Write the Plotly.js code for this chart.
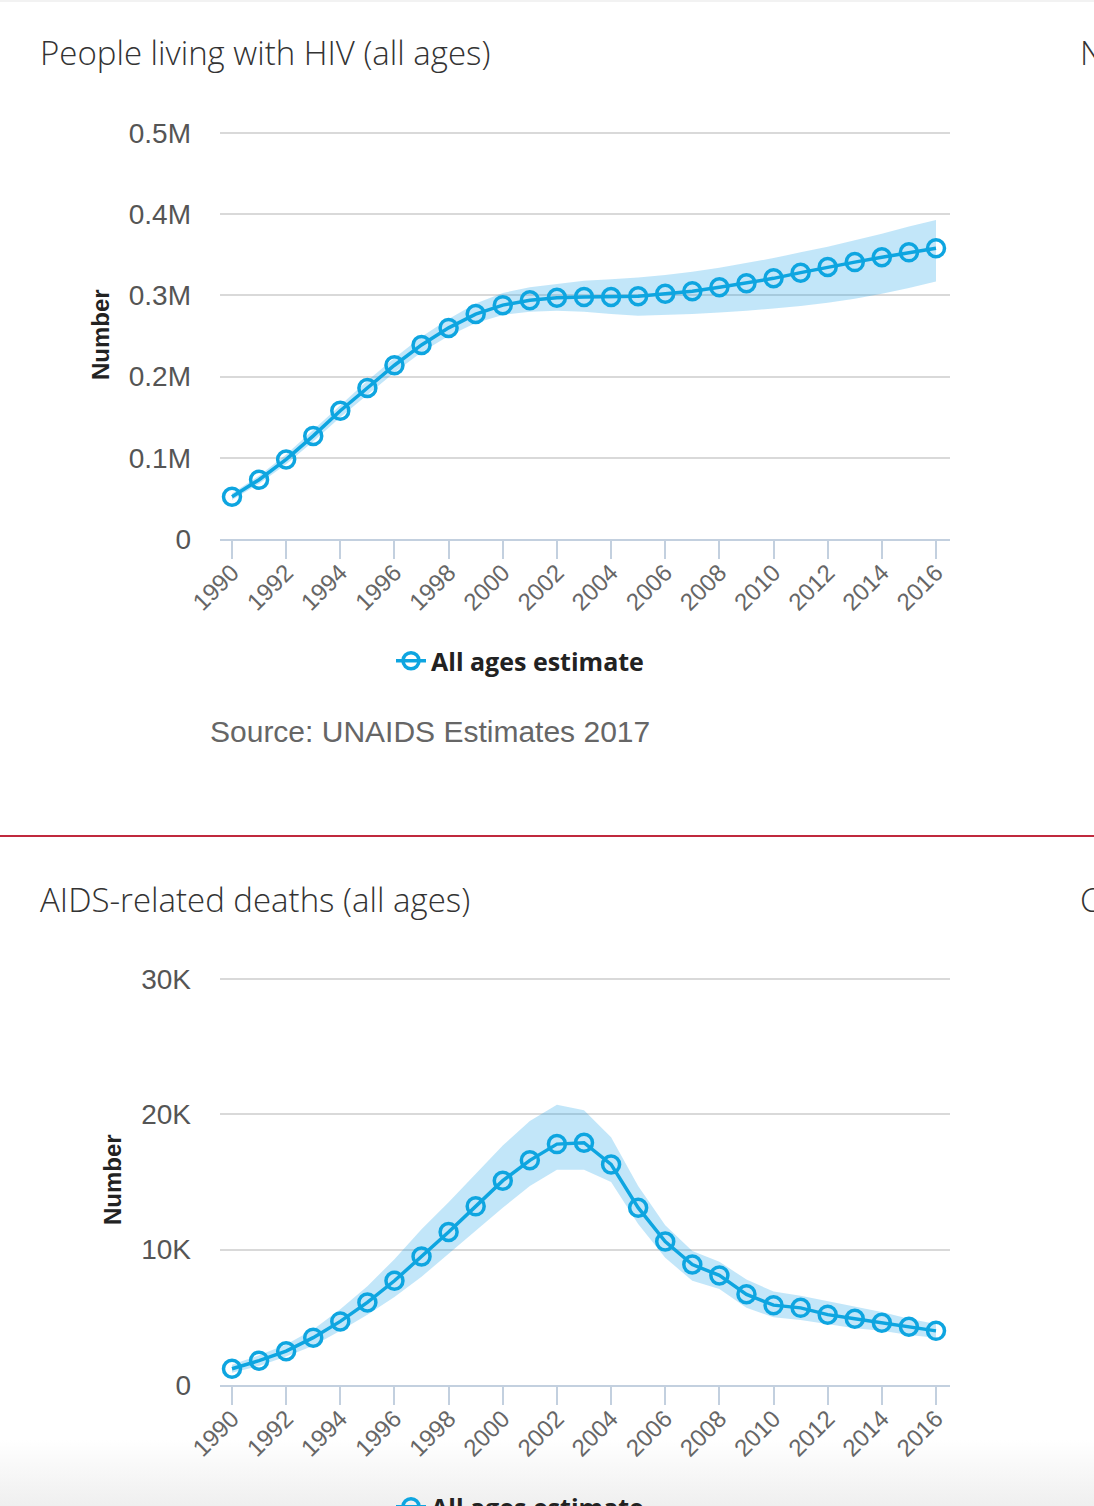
<!DOCTYPE html>
<html>
<head>
<meta charset="utf-8">
<script src="https://cdn.plot.ly/plotly-3.0.1.min.js"></script>
<style>
  html, body { margin: 0; padding: 0; }
  body { width: 1094px; height: 1506px; overflow: hidden;
         background: linear-gradient(to bottom, #ffffff 0px, #ffffff 1440px, #efefef 1506px); }
  #chart { width: 1094px; height: 1506px; }
</style>
</head>
<body>
<div id="chart"></div>
<script>
// ---------- data ----------
const years = [1990,1991,1992,1993,1994,1995,1996,1997,1998,1999,2000,2001,2002,2003,2004,2005,2006,2007,2008,2009,2010,2011,2012,2013,2014,2015,2016];

// People living with HIV (all ages)
const plhivEstimate = [52000,73000,98000,127000,158000,186000,214000,239000,260000,277000,288000,294000,297000,298000,298000,299000,302000,305000,310000,315000,321000,328000,335000,341000,347000,353000,358000];
const plhivLower    = [48000,68000,92000,120000,150000,178000,205000,230000,250000,266000,276000,280000,281000,280000,277000,275000,276000,277000,279000,281000,284000,287000,291000,296000,302000,309000,317000];
const plhivUpper    = [56000,78000,104000,134000,165000,195000,223000,249000,271000,290000,303000,310000,314000,318000,320000,322000,325000,329000,334000,340000,346000,353000,360000,368000,376000,385000,393000];

// AIDS-related deaths (all ages)
const deathsEstimate = [1200,1800,2500,3500,4700,6100,7700,9500,11300,13200,15100,16600,17800,17900,16300,13100,10600,8900,8100,6700,5900,5700,5200,4900,4600,4300,4000];
const deathsLower    = [900,1400,2100,2900,4000,5200,6500,8000,9700,11400,13100,14700,15900,15900,15000,11900,9400,7700,7100,5700,5000,4800,4500,4200,4000,3700,3500];
const deathsUpper    = [1500,2200,3000,4100,5600,7300,9300,11500,13500,15600,17700,19500,20700,20300,18300,14700,11800,9900,9100,7800,6900,6600,6200,5800,5400,4900,4500];

const xTickVals = [1990,1992,1994,1996,1998,2000,2002,2004,2006,2008,2010,2012,2014,2016];
const plhivTickVals = [0,100000,200000,300000,400000,500000];
const plhivTickText = ['0','0.1M','0.2M','0.3M','0.4M','0.5M'];
const deathsTickVals = [0,10000,20000,30000];
const deathsTickText = ['0','10K','20K','30K'];

const chartTitles = ['People living with HIV (all ages)', 'AIDS-related deaths (all ages)'];
const seriesName = 'All ages estimate';
const sourceText = 'Source: UNAIDS Estimates 2017';

// ---------- styling ----------
const W = 1094, H = 1506;
const px = v => v / W;
const py = v => 1 - v / H;
const BLUE = '#0ea5e0';
const BAND = 'rgba(20,160,230,0.26)';

function band(xa, ya, lower, upper) {
  return [
    { x: years, y: lower, xaxis: xa, yaxis: ya, type: 'scatter', mode: 'lines',
      line: { width: 0, color: BAND }, showlegend: false, hoverinfo: 'skip' },
    { x: years, y: upper, xaxis: xa, yaxis: ya, type: 'scatter', mode: 'lines',
      fill: 'tonexty', fillcolor: BAND, line: { width: 0, color: BAND }, showlegend: false, hoverinfo: 'skip' }
  ];
}
function line(xa, ya, vals, legend) {
  return { x: years, y: vals, xaxis: xa, yaxis: ya, type: 'scatter', mode: 'lines+markers',
    name: seriesName, legend: legend,
    line: { color: BLUE, width: 3.5 },
    marker: { symbol: 'circle-open', size: 17, color: BLUE, line: { width: 3.5, color: BLUE } } };
}

const traces = [
  ...band('x', 'y', plhivLower, plhivUpper),
  line('x', 'y', plhivEstimate, 'legend'),
  ...band('x2', 'y2', deathsLower, deathsUpper),
  line('x2', 'y2', deathsEstimate, 'legend2')
];

const xRange = [1989.557, 2016.517];
function xAxis(anchor) {
  return { anchor: anchor, domain: [px(220), px(950)], range: xRange, tickvals: xTickVals,
    tickangle: -45, ticks: 'outside', ticklen: 18, tickwidth: 2, tickcolor: '#c3d0df',
    ticklabelstandoff: -10,
    showline: true, linecolor: '#c3d0df', linewidth: 2, showgrid: false, zeroline: false,
    tickfont: { family: 'Liberation Sans, Arial, sans-serif', size: 24, color: '#666666' },
    fixedrange: true };
}
// plot top is set a few pixels above the top tick so its gridline is drawn
function yAxis(anchor, pix0, pixTop, top, vals, text) {
  const extra = 5; // px
  const perPx = top / (pix0 - pixTop);
  return { anchor: anchor, domain: [py(pix0), py(pixTop - extra)], range: [0, top + extra * perPx],
    tickvals: vals, ticktext: text,
    showgrid: true, gridcolor: '#d9d9d9', gridwidth: 2, zeroline: false, showline: false,
    ticks: '', ticklabelstandoff: 28,
    tickfont: { family: 'Liberation Sans, Arial, sans-serif', size: 28, color: '#555555' },
    fixedrange: true };
}

const legendFont = { family: 'Open Sans, DejaVu Sans, sans-serif', size: 25, color: '#222222', weight: 'bold' };
const titleFont = { family: 'Open Sans, Lato, sans-serif', size: 33, color: '#333333', weight: 300 };

const layout = {
  width: W, height: H,
  margin: { l: 0, r: 0, t: 0, b: 0, autoexpand: false },
  paper_bgcolor: 'rgba(0,0,0,0)', plot_bgcolor: 'rgba(0,0,0,0)',
  showlegend: true,
  xaxis: xAxis('y'),
  yaxis: yAxis('x', 539, 133, 500000, plhivTickVals, plhivTickText),
  xaxis2: xAxis('y2'),
  yaxis2: yAxis('x2', 1385, 979, 30000, deathsTickVals, deathsTickText),
  legend: { x: px(391), y: py(661), xanchor: 'left', yanchor: 'middle', orientation: 'h',
    bgcolor: 'rgba(0,0,0,0)', font: legendFont, itemwidth: 30 },
  legend2: { x: px(391), y: py(1507), xanchor: 'left', yanchor: 'middle', orientation: 'h',
    bgcolor: 'rgba(0,0,0,0)', font: legendFont, itemwidth: 30 },
  shapes: [
    { type: 'line', xref: 'paper', yref: 'paper', x0: 0, x1: 1, y0: py(836), y1: py(836),
      line: { color: '#c0293d', width: 2 } },
    { type: 'line', xref: 'paper', yref: 'paper', x0: 0, x1: 1, y0: py(1), y1: py(1),
      line: { color: '#f2f2f2', width: 2 } }
  ],
  annotations: [
    { text: chartTitles[0], xref: 'paper', yref: 'paper', x: px(38), y: py(53), xanchor: 'left', yanchor: 'middle',
      showarrow: false, font: titleFont },
    { text: chartTitles[1], xref: 'paper', yref: 'paper', x: px(38), y: py(899), xanchor: 'left', yanchor: 'middle',
      showarrow: false, font: titleFont },
    { text: 'N', xref: 'paper', yref: 'paper', x: px(1078), y: py(53), xanchor: 'left', yanchor: 'middle',
      showarrow: false, font: titleFont },
    { text: 'C', xref: 'paper', yref: 'paper', x: px(1078), y: py(899), xanchor: 'left', yanchor: 'middle',
      showarrow: false, font: titleFont },
    { text: 'Number', xref: 'paper', yref: 'paper', x: px(100), y: py(335), xanchor: 'center', yanchor: 'middle',
      textangle: -90, showarrow: false, font: { family: 'Liberation Sans, Arial, sans-serif', size: 24, color: '#222222', weight: 'bold' } },
    { text: 'Number', xref: 'paper', yref: 'paper', x: px(112), y: py(1180), xanchor: 'center', yanchor: 'middle',
      textangle: -90, showarrow: false, font: { family: 'Liberation Sans, Arial, sans-serif', size: 24, color: '#222222', weight: 'bold' } },
    { text: sourceText, xref: 'paper', yref: 'paper', x: px(208), y: py(731), xanchor: 'left', yanchor: 'middle',
      showarrow: false, font: { family: 'Liberation Sans, Arial, sans-serif', size: 30, color: '#666666' } }
  ]
};

Plotly.newPlot('chart', traces, layout, { displayModeBar: false, staticPlot: true });
</script>
</body>
</html>
